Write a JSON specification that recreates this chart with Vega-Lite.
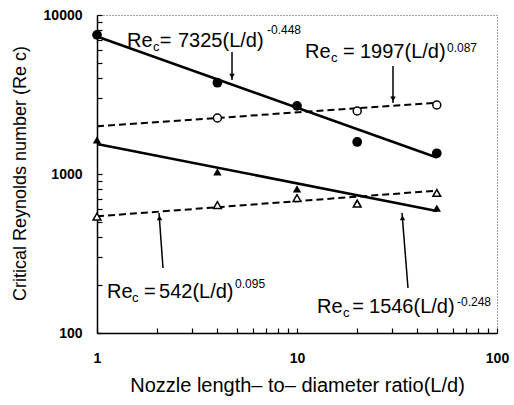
{
  "$schema": "https://vega.github.io/schema/vega-lite/v6.json",
  "width": 400,
  "height": 318,
  "autosize": {"type": "none"},
  "padding": {"left": 97, "top": 15, "right": 17, "bottom": 72},
  "background": "white",
  "config": {
    "font": "Liberation Sans",
    "view": {"stroke": "#444", "strokeDash": [1, 2], "strokeWidth": 1},
    "axis": {
      "grid": false,
      "domainColor": "black",
      "domainWidth": 1.5,
      "ticks": true,
      "tickColor": "black",
      "tickWidth": 1.2,
      "tickSize": -5,
      "labelFont": "Liberation Sans",
      "labelFontSize": 14,
      "labelFontWeight": "bold",
      "labelColor": "black",
      "titleFont": "Liberation Sans",
      "titleColor": "black",
      "titleFontWeight": "normal"
    }
  },
  "datasets": {
    "fits": [
      {"series": "filledCircle", "x": 1, "y": 7325},
      {"series": "filledCircle", "x": 50, "y": 1270},
      {"series": "openCircle", "x": 1, "y": 1997},
      {"series": "openCircle", "x": 50, "y": 2806},
      {"series": "filledTriangle", "x": 1, "y": 1546},
      {"series": "filledTriangle", "x": 50, "y": 586},
      {"series": "openTriangle", "x": 1, "y": 542},
      {"series": "openTriangle", "x": 50, "y": 786}
    ],
    "points": [
      {"series": "filledCircle", "x": 1, "y": 7500},
      {"series": "filledCircle", "x": 4, "y": 3750},
      {"series": "filledCircle", "x": 10, "y": 2680},
      {"series": "filledCircle", "x": 20, "y": 1590},
      {"series": "filledCircle", "x": 50, "y": 1350},
      {"series": "openCircle", "x": 4, "y": 2250},
      {"series": "openCircle", "x": 20, "y": 2490},
      {"series": "openCircle", "x": 50, "y": 2716},
      {"series": "filledTriangle", "x": 1, "y": 1640},
      {"series": "filledTriangle", "x": 4, "y": 1030},
      {"series": "filledTriangle", "x": 10, "y": 805},
      {"series": "filledTriangle", "x": 20, "y": 660},
      {"series": "filledTriangle", "x": 50, "y": 611},
      {"series": "openTriangle", "x": 1, "y": 540},
      {"series": "openTriangle", "x": 4, "y": 638},
      {"series": "openTriangle", "x": 10, "y": 706},
      {"series": "openTriangle", "x": 20, "y": 650},
      {"series": "openTriangle", "x": 50, "y": 760}
    ],
    "arrows": [
      {"id": 1, "x": 4.732, "y": 5853, "x2": 4.732, "y2": 3902},
      {"id": 2, "x": 30.2, "y": 4777, "x2": 30.2, "y2": 2796},
      {"id": 3, "x": 2.138, "y": 256.4, "x2": 2.042, "y2": 568.5},
      {"id": 4, "x": 35.89, "y": 191.9, "x2": 33.5, "y2": 568.5}
    ],
    "heads": [
      {"id": 1, "dir": "down", "x": 4.732, "y": 4133},
      {"id": 2, "dir": "down", "x": 30.2, "y": 2963},
      {"id": 3, "dir": "up", "x": 2.054, "y": 528.9},
      {"id": 4, "dir": "up", "x": 33.69, "y": 528.9}
    ],
    "labels": [
      {"role": "main", "x": 1.413, "y": 6292, "text": "Re"},
      {"role": "sub", "x": 1.905, "y": 5937, "text": "c"},
      {"role": "main", "x": 2.06, "y": 6292, "text": "="},
      {"role": "main", "x": 2.541, "y": 6292, "text": "7325(L/d)"},
      {"role": "sup", "x": 7.079, "y": 7595, "text": "-0.448"},
      {"role": "main", "x": 10.965, "y": 5366, "text": "Re"},
      {"role": "sub", "x": 14.79, "y": 5064, "text": "c"},
      {"role": "main", "x": 17.0, "y": 5366, "text": "="},
      {"role": "main", "x": 20.65, "y": 5366, "text": "1997(L/d)"},
      {"role": "sup", "x": 56.23, "y": 5853, "text": "0.087"},
      {"role": "main", "x": 1.122, "y": 166.0, "text": "Re"},
      {"role": "sub", "x": 1.496, "y": 156.7, "text": "c"},
      {"role": "main", "x": 1.72, "y": 166.0, "text": "="},
      {"role": "main", "x": 2.042, "y": 166.0, "text": "542(L/d)"},
      {"role": "sup", "x": 4.9, "y": 191.9, "text": "0.095"},
      {"role": "main", "x": 12.59, "y": 133.6, "text": "Re"},
      {"role": "sub", "x": 16.98, "y": 126.1, "text": "c"},
      {"role": "main", "x": 18.9, "y": 133.6, "text": "="},
      {"role": "main", "x": 22.91, "y": 133.6, "text": "1546(L/d)"},
      {"role": "sup", "x": 63.1, "y": 147.9, "text": "-0.248"}
    ]
  },
  "encoding": {
    "x": {
      "field": "x",
      "type": "quantitative",
      "scale": {"type": "log", "domain": [1, 100]},
      "axis": {
        "values": [1, 2, 3, 4, 5, 6, 7, 8, 9, 10, 20, 30, 40, 50, 60, 70, 80, 90, 100],
        "labelExpr": "(datum.value == 1 || datum.value == 10 || datum.value == 100) ? ('' + datum.value) : ''",
        "labelPadding": 23,
        "labelFlush": false,
        "labelOverlap": false,
        "title": "Nozzle length– to– diameter ratio(L/d)",
        "titleFontSize": 20,
        "titleY": 52,
        "titleBaseline": "middle"
      }
    },
    "y": {
      "field": "y",
      "type": "quantitative",
      "scale": {"type": "log", "domain": [100, 10000]},
      "axis": {
        "values": [100, 200, 300, 400, 500, 600, 700, 800, 900, 1000, 2000, 3000, 4000, 5000, 6000, 7000, 8000, 9000, 10000],
        "labelExpr": "(datum.value == 100 || datum.value == 1000 || datum.value == 10000) ? ('' + datum.value) : ''",
        "labelPadding": 20,
        "labelFlush": false,
        "labelOverlap": false,
        "title": "Critical Reynolds number (Re  c)",
        "titleFontSize": 18,
        "titleX": -77,
        "titleY": 158,
        "titleAngle": -90,
        "titleAlign": "center",
        "titleBaseline": "middle"
      }
    }
  },
  "layer": [
    {
      "data": {"name": "fits"},
      "transform": [{"filter": "datum.series == 'filledCircle' || datum.series == 'filledTriangle'"}],
      "mark": {"type": "line", "color": "black", "strokeWidth": 2.5},
      "encoding": {"detail": {"field": "series"}}
    },
    {
      "data": {"name": "fits"},
      "transform": [{"filter": "datum.series == 'openCircle' || datum.series == 'openTriangle'"}],
      "mark": {"type": "line", "color": "black", "strokeWidth": 2, "strokeDash": [7, 4]},
      "encoding": {"detail": {"field": "series"}}
    },
    {
      "data": {"name": "points"},
      "transform": [{"filter": "datum.series == 'filledCircle'"}],
      "mark": {"type": "point", "shape": "circle", "filled": true, "color": "black", "size": 95, "opacity": 1}
    },
    {
      "data": {"name": "points"},
      "transform": [{"filter": "datum.series == 'openCircle'"}],
      "mark": {"type": "point", "shape": "circle", "filled": false, "fill": "white", "stroke": "black", "strokeWidth": 1.5, "size": 64, "opacity": 1}
    },
    {
      "data": {"name": "points"},
      "transform": [{"filter": "datum.series == 'filledTriangle'"}],
      "mark": {"type": "point", "shape": "triangle-up", "filled": true, "color": "black", "size": 70, "opacity": 1}
    },
    {
      "data": {"name": "points"},
      "transform": [{"filter": "datum.series == 'openTriangle'"}],
      "mark": {"type": "point", "shape": "triangle-up", "filled": false, "fill": "white", "stroke": "black", "strokeWidth": 1.5, "size": 60, "opacity": 1}
    },
    {
      "data": {"name": "arrows"},
      "mark": {"type": "rule", "color": "black", "strokeWidth": 1.5},
      "encoding": {"x2": {"field": "x2"}, "y2": {"field": "y2"}}
    },
    {
      "data": {"name": "heads"},
      "transform": [{"filter": "datum.dir == 'down'"}],
      "mark": {"type": "point", "shape": "triangle-down", "filled": true, "color": "black", "size": 30, "opacity": 1}
    },
    {
      "data": {"name": "heads"},
      "transform": [{"filter": "datum.dir == 'up'"}],
      "mark": {"type": "point", "shape": "triangle-up", "filled": true, "color": "black", "size": 30, "opacity": 1}
    },
    {
      "data": {"name": "labels"},
      "transform": [{"filter": "datum.role == 'main'"}],
      "mark": {"type": "text", "align": "left", "baseline": "alphabetic", "fontSize": 20, "color": "black", "font": "Liberation Sans"},
      "encoding": {"text": {"field": "text"}}
    },
    {
      "data": {"name": "labels"},
      "transform": [{"filter": "datum.role == 'sub'"}],
      "mark": {"type": "text", "align": "left", "baseline": "alphabetic", "fontSize": 13, "color": "black", "font": "Liberation Sans"},
      "encoding": {"text": {"field": "text"}}
    },
    {
      "data": {"name": "labels"},
      "transform": [{"filter": "datum.role == 'sup'"}],
      "mark": {"type": "text", "align": "left", "baseline": "alphabetic", "fontSize": 12, "color": "black", "font": "Liberation Sans"},
      "encoding": {"text": {"field": "text"}}
    }
  ]
}
